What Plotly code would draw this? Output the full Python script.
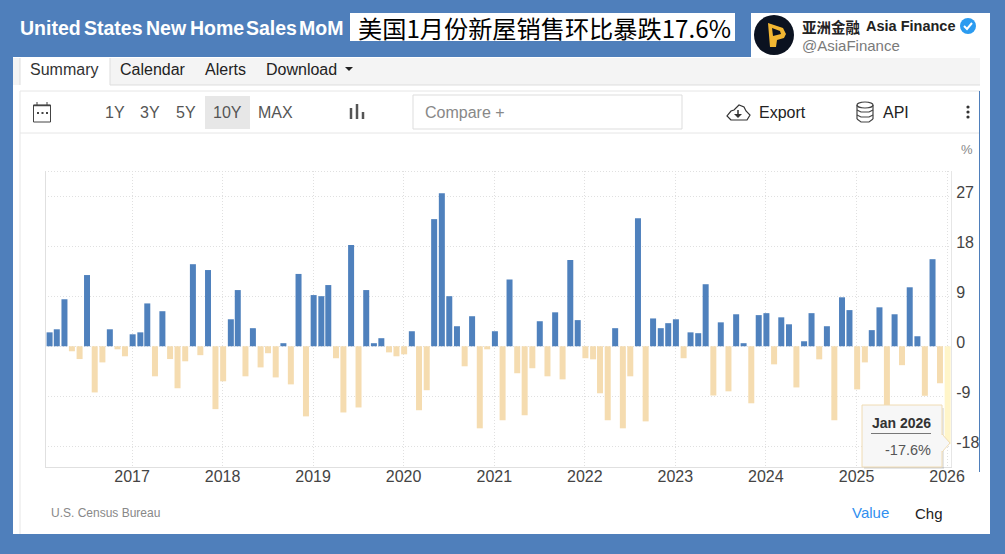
import pandas as pd
import plotly.graph_objects as go

W, H = 1005, 554
PLOT_L, PLOT_R, PLOT_T, PLOT_B = 45, 951, 171, 467

BLUE = "#4f7fbb"
BAR_UP = "#4f81bd"
BAR_DOWN = "#f5dcb0"
BAR_LAST = "#fff5c9"
FONT = "Liberation Sans"
CJK = "Noto Sans CJK SC"

months = pd.date_range("2016-02-01", "2026-01-01", freq="MS")
mom_2016 = [2.5, 3.05, 8.45, -0.9, -2.3, 12.8, -8.3, -2.9, 3.05, -0.55, -1.8]
mom_2017 = [2.15, 2.5, 7.7, -5.4, 6.3, -2.3, -7.55, -2.7, 14.75, -1.6, 13.7, -11.3]
mom_2018 = [-6.3, 4.85, 10.1, -5.4, 3.25, -3.8, -1.25, -5.6, 0.55, -6.85, 13.0, -12.6]
mom_2019 = [9.2, 9.0, 11.0, -2.15, -11.9, 18.2, -11.0, 10.1, 0.55, 1.45, -1.1, -1.8]
mom_2020 = [-1.45, 2.7, -11.5, -7.9, 22.85, 27.5, 9.0, 3.6, -3.6, 5.4, -14.75, -0.55]
mom_2021 = [2.7, -13.3, 12.0, -4.85, -12.4, -3.95, 4.5, -5.4, 6.1, -5.95, 15.5, 4.7]
mom_2022 = [-2.15, -2.35, -8.45, -13.3, 3.25, -14.75, -5.4, 23.0, -13.5, 5.0, 3.25, 4.15]
mom_2023 = [4.85, -2.15, 2.5, 2.35, 11.15, -8.85, 4.3, -8.1, 5.75, 0.55, -10.25, 5.6]
mom_2024 = [5.95, -3.25, 5.2, 3.95, -7.4, 0.9, 5.95, -2.35, 3.6, -13.3, 8.8, 6.5]
mom_2025 = [-7.75, -2.9, 2.9, 7.0, -13.5, 5.75, -3.4, 10.6, 1.8, -8.9, 15.65, -6.65]
mom_2026 = [-17.6]
values = (mom_2016 + mom_2017 + mom_2018 + mom_2019 + mom_2020 + mom_2021
          + mom_2022 + mom_2023 + mom_2024 + mom_2025 + mom_2026)
y_ticks = [27, 18, 9, 0, -9, -18]


def px(x):
    return (x - PLOT_L) / (PLOT_R - PLOT_L)


def py(y):
    return (PLOT_B - y) / (PLOT_B - PLOT_T)


shapes = []
annotations = []


def rect(x0, y0, x1, y1, fill, line=None, width=1, layer="below"):
    shapes.append(dict(type="rect", xref="paper", yref="paper", layer=layer,
                       x0=px(x0), x1=px(x1), y0=py(y0), y1=py(y1), fillcolor=fill,
                       line=dict(color=line or fill, width=width if line else 0)))


def line(x0, y0, x1, y1, color, width=1, dash="solid", layer="below"):
    shapes.append(dict(type="line", xref="paper", yref="paper", layer=layer,
                       x0=px(x0), x1=px(x1), y0=py(y0), y1=py(y1),
                       line=dict(color=color, width=width, dash=dash)))


def oval(cx, cy, rx, ry, fill, line_color=None, width=1, layer="above"):
    shapes.append(dict(type="circle", xref="paper", yref="paper", layer=layer,
                       x0=px(cx - rx), x1=px(cx + rx), y0=py(cy - ry), y1=py(cy + ry), fillcolor=fill,
                       line=dict(color=line_color or fill, width=width if line_color else 0)))


def poly(points, fill="rgba(0,0,0,0)", color=None, width=1, close=True, layer="above"):
    d = "M " + " L ".join(f"{px(x):.5f},{py(y):.5f}" for x, y in points) + (" Z" if close else "")
    shapes.append(dict(type="path", xref="paper", yref="paper", layer=layer, path=d, fillcolor=fill,
                       line=dict(color=color or fill, width=width if color else 0)))


def text(x, y, s, size=16, color="#333333", anchor="left", bold=False, family=FONT):
    annotations.append(dict(xref="paper", yref="paper", x=px(x), y=py(y), text=f"<b>{s}</b>" if bold else s,
                            showarrow=False, xanchor=anchor, yanchor="middle", borderpad=0, borderwidth=0,
                            font=dict(family=family, size=size, color=color)))


# page panels
rect(13, 57, 990, 534, "#ffffff")
rect(350, 13, 735, 41, "#ffffff")
rect(751, 13, 990, 58, "#ffffff")
rect(13, 58, 980, 85, "#f4f4f4")
line(20, 85, 980, 85, "#dddddd")
rect(20, 58, 110, 86, "#ffffff")
line(20, 58, 20, 85, "#dddddd")
line(110, 58, 110, 85, "#dddddd")
line(20, 91, 980, 91, "#e6e6e6")
line(20, 133, 980, 133, "#e6e6e6")
line(20, 91, 20, 534, "#e6e6e6")
line(979.5, 91, 979.5, 472, BLUE)
rect(205, 96, 250, 129, "#e7e7e7")
rect(413, 95, 682, 129, "#ffffff", "#dddddd")

# headline
for word, x in [("United", 20), ("States", 84), ("New", 146), ("Home", 190), ("Sales", 246), ("MoM", 299)]:
    text(x, 28, word, size=19.5, color="#ffffff", bold=True)
text(358, 27, "美国1月份新屋销售环比暴跌17.6%", size=24.2, color="#000000", family=CJK)

# account badge
oval(774, 35, 20, 20, "#0b1220")
poly([(768, 23), (783, 28), (786, 34), (784, 38), (777, 40), (776, 47), (770, 47)], fill="#f2b632")
poly([(772, 28), (780, 31), (781, 34), (773, 36)], fill="#0b1220")
text(802, 26, "亚洲金融", size=14.5, color="#222222", bold=True, family=CJK)
text(866, 26, "Asia Finance", size=14.5, color="#222222", bold=True)
text(802, 46, "@AsiaFinance", size=15, color="#7a7a7a")
oval(968, 26, 8, 8, "#2b9bf0")
poly([(964, 26), (967, 29), (972, 23)], color="#ffffff", width=2, close=False)

# tabs and toolbar
text(30, 69, "Summary", color="#333333")
text(120, 69, "Calendar", color="#222222")
text(205, 69, "Alerts", color="#222222")
text(266, 69, "Download", color="#222222")
poly([(345, 67), (353, 67), (349, 71)], fill="#222222")
for label, x in [("1Y", 115), ("3Y", 150), ("5Y", 186), ("10Y", 227), ("MAX", 275)]:
    text(x, 113, label, color="#555555", anchor="center")
text(425, 112, "Compare +", color="#888888")
text(759, 113, "Export", color="#222222")
text(883, 113, "API", color="#222222")
text(967, 150, "%", size=13, color="#888888", anchor="center")

# toolbar icons
rect(33.5, 105, 50.5, 122, "#ffffff", "#444444", layer="above")
line(33.5, 105.5, 50.5, 105.5, "#444444", width=1.5, layer="above")
line(37, 102, 37, 105, "#444444", layer="above")
line(47, 102, 47, 105, "#444444", layer="above")
for x in [38, 42.5, 47]:
    rect(x - 1, 112, x + 1, 114, "#444444", layer="above")
for x, top in [(351, 108), (357, 104), (363, 112)]:
    line(x, top, x, 119, "#555555", width=2.5, layer="above")
poly([(731, 120), (727, 116), (731, 111), (734, 110), (739, 105), (744, 107), (746, 111), (750, 115), (747, 120)],
     color="#333333", width=1.2)
line(738, 110, 738, 116, "#333333", width=1.5, layer="above")
poly([(734, 114), (742, 114), (738, 118)], fill="#333333")
oval(865, 105, 8, 3, "#ffffff", "#444444", width=1.2)
line(857, 105, 857, 119, "#444444", width=1.2, layer="above")
line(873, 105, 873, 119, "#444444", width=1.2, layer="above")
for y0 in [110, 115]:
    poly([(857, y0), (861, y0 + 2), (869, y0 + 2), (873, y0)], color="#444444", width=1.2, close=False)
poly([(857, 119), (861, 122), (869, 122), (873, 119)], color="#444444", width=1.2, close=False)
for y0 in [107, 112, 117]:
    oval(968, y0, 1.6, 1.6, "#333333")

# plot frame
line(PLOT_L + 0.5, PLOT_T, PLOT_L + 0.5, PLOT_B, "#e0e0e0", layer="below")
line(PLOT_L, PLOT_T + 0.5, PLOT_R, PLOT_T + 0.5, "#e0e0e0", dash="1px,2px", layer="below")

# footer
text(51, 513, "U.S. Census Bureau", size=12, color="#888888")
text(852, 512, "Value", size=15, color="#2f8fef")
text(915, 513, "Chg", size=15, color="#222222")

# tooltip
rect(864, 408, 944, 469, "rgba(0,0,0,0.10)", layer="above")
poly([(942, 434), (950, 443), (942, 452)], fill="#f7f7f7", color="#f0dcb4", width=1)
rect(862, 405, 942, 467, "#f7f7f7", "#f0dcb4", layer="above")
line(942, 435, 942, 451, "#f7f7f7", width=2, layer="above")
text(901, 423, "Jan 2026", size=14, color="#333333", anchor="center", bold=True)
line(871, 433.5, 931, 433.5, "#777777", layer="above")
text(931, 450, "-17.6%", size=14.5, color="#555555", anchor="right")

colors = [BAR_UP if v >= 0 else BAR_DOWN for v in values]
colors[-1] = BAR_LAST
day_ms = 24 * 3600 * 1000
bar_width = 24.2 * day_ms

fig = go.Figure(go.Bar(x=months, y=values, width=bar_width, offset=-bar_width / 2 + 2.5 * day_ms,
                       marker=dict(color=colors, line=dict(width=0))))
fig.update_layout(
    width=W, height=H,
    margin=dict(l=PLOT_L, r=W - PLOT_R, t=PLOT_T, b=H - PLOT_B, pad=0),
    paper_bgcolor=BLUE, plot_bgcolor="rgba(0,0,0,0)",
    showlegend=False, font=dict(family=FONT, size=16, color="#444444"),
    shapes=shapes, annotations=annotations,
)
fig.update_xaxes(type="date", range=["2016-01-16", "2026-01-17"], tick0="2017-01-01", dtick="M12", tickformat="%Y",
                 showgrid=True, gridcolor="#e0e0e0", griddash="1px,2px", gridwidth=1,
                 showline=True, linecolor="#e0e0e0", ticks="", zeroline=False, ticklabelstandoff=-5,
                 tickfont=dict(size=16, color="#444444"))
fig.update_yaxes(side="right", range=[-21.7, 31.5], tickvals=y_ticks, ticktext=[str(t) for t in y_ticks],
                 showgrid=True, gridcolor="#e0e0e0", griddash="1px,2px", gridwidth=1,
                 showline=True, linecolor="#e6e6e6", ticks="outside", ticklen=1, tickcolor="rgba(0,0,0,0)",
                 zeroline=False, ticklabelshift=-4, tickfont=dict(size=16, color="#444444"))

fig.write_html("out.html", config=dict(displayModeBar=False),
               post_script="document.body.style.margin='0';document.body.style.overflow='hidden';")
